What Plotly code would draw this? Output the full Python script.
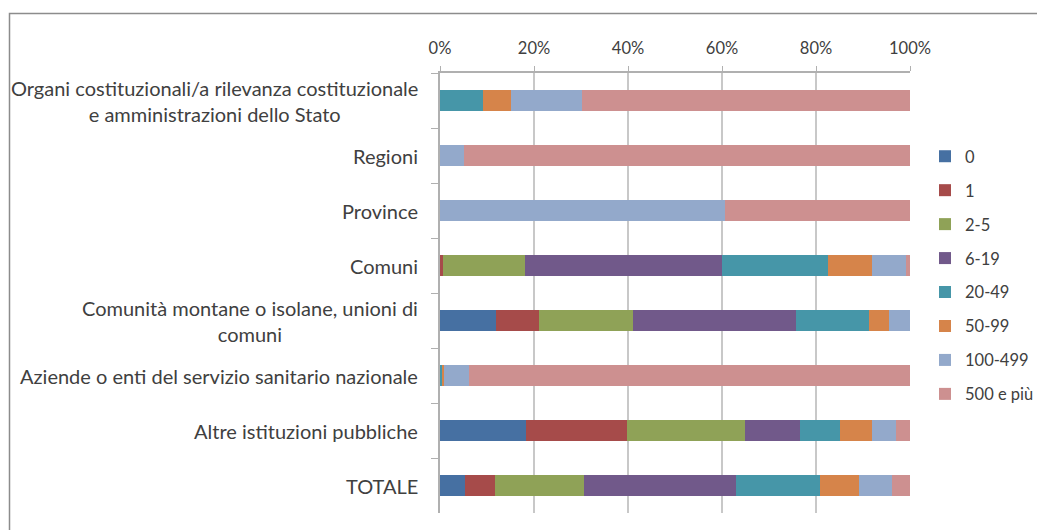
import plotly.graph_objects as go

categories = [
    "Organi costituzionali/a rilevanza costituzionale<br>e amministrazioni dello Stato",
    "Regioni",
    "Province",
    "Comuni",
    "Comunità montane o isolane, unioni di<br>comuni",
    "Aziende o enti del servizio sanitario nazionale",
    "Altre istituzioni pubbliche",
    "TOTALE",
]
series_names = ["0", "1", "2-5", "6-19", "20-49", "50-99", "100-499", "500 e più"]
colors = ["#4670a2", "#a64b4a", "#8fa257", "#71598a", "#4696a8", "#d6844a", "#93a9cb", "#cd9090"]

# percentage shares, one list per series, in category order
v_0 = [0, 0, 0, 0, 11.9, 0, 18.3, 5.3]
v_1 = [0, 0, 0, 0.7, 9.2, 0, 21.4, 6.4]
v_2_5 = [0, 0, 0, 17.4, 20.0, 0, 25.2, 19.0]
v_6_19 = [0, 0, 0, 41.8, 34.6, 0, 11.7, 32.2]
v_20_49 = [9.1, 0, 0, 22.6, 15.6, 0.4, 8.5, 18.0]
v_50_99 = [6.0, 0, 0, 9.4, 4.3, 0.5, 6.8, 8.2]
v_100_499 = [15.1, 5.0, 60.6, 7.2, 4.4, 5.3, 5.2, 7.0]
v_500 = [69.8, 95.0, 39.4, 0.9, 0.0, 93.8, 3.0, 4.0]

values = [v_0, v_1, v_2_5, v_6_19, v_20_49, v_50_99, v_100_499, v_500]

FONT = "Lato, 'Open Sans', sans-serif"
TXT = "#404040"

fig = go.Figure()
for name, col, vals in zip(series_names, colors, values):
    fig.add_trace(go.Bar(
        y=categories, x=vals, name=name, orientation="h",
        marker=dict(color=col, line=dict(width=0)),
        legendgroup=name,
    ))

# the page body adds an 8px margin, so figure coords = page coords - 8
OFF = 8
W, H = 1045 - OFF, 530 - OFF
L, T = 440 - OFF, 73 - OFF
PR, PB = 910 - OFF, 513 - OFF
R, B = W - PR, H - PB
pw, ph = PR - L, PB - T

def px(x):
    return (x - OFF - L) / pw

def py(y):
    return 1 - (y - OFF - T) / ph

for cat in categories:
    fig.add_annotation(
        x=px(420), xref="paper", y=cat, yref="y",
        text=cat, showarrow=False, xanchor="right", yanchor="middle",
        align="center", font=dict(family=FONT, size=20, color=TXT),
    )

fig.add_shape(type="rect", xref="paper", yref="paper",
              x0=px(9.5), x1=px(1070), y0=py(13.5), y1=py(560),
              line=dict(color="#8c8c8c", width=1.5), fillcolor="rgba(0,0,0,0)")

fig.update_layout(
    width=W, height=H,
    margin=dict(l=L, r=R, t=T, b=B, autoexpand=False),
    barmode="stack", bargap=0.62,
    plot_bgcolor="white", paper_bgcolor="white",
    font=dict(family=FONT, size=17, color=TXT),
    showlegend=True,
    legend=dict(
        xref="container", yref="container",
        x=(925 - OFF) / W, y=1 - (139 - OFF) / H, xanchor="left", yanchor="top",
        traceorder="grouped", tracegroupgap=9.5, maxheight=420,
        font=dict(family=FONT, size=16.5, color=TXT),
        bgcolor="rgba(0,0,0,0)",
    ),
    xaxis=dict(
        side="top", range=[0, 100], dtick=20, ticksuffix="%",
        showgrid=True, gridcolor="#c8c8c8", gridwidth=1.5,
        showline=True, linecolor="#b0b0b0", linewidth=1.5,
        ticks="outside", ticklen=5, tickcolor="#b0b0b0",
        ticklabelstandoff=6,
        zeroline=False, tickfont=dict(family=FONT, size=16.5, color=TXT),
    ),
    yaxis=dict(
        autorange="reversed", showticklabels=False,
        showline=True, linecolor="#b0b0b0", linewidth=1.5,
        ticks="outside", tickson="boundaries", ticklen=7, tickcolor="#b0b0b0",
        showgrid=False, zeroline=False,
    ),
)

fig.write_html("out.html")
